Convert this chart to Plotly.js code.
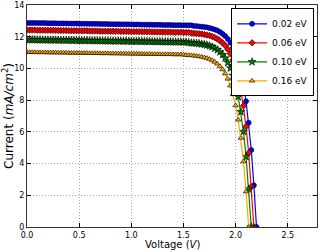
<!DOCTYPE html>
<html><head><meta charset="utf-8">
<script src="https://cdn.plot.ly/plotly-3.0.1.min.js"></script>
<style>html,body{margin:0;padding:0;background:#fff}#chart{width:320px;height:252px}</style>
</head><body><div id="chart"></div>
<script>
const voltage = [0,0.025,0.05,0.075,0.1,0.125,0.15,0.175,0.2,0.225,0.25,0.275,0.3,0.325,0.35,0.375,0.4,0.425,0.45,0.475,0.5,0.525,0.55,0.575,0.6,0.625,0.65,0.675,0.7,0.725,0.75,0.775,0.8,0.825,0.85,0.875,0.9,0.925,0.95,0.975,1.0,1.025,1.05,1.075,1.1,1.125,1.15,1.175,1.2,1.225,1.25,1.275,1.3,1.325,1.35,1.375,1.4,1.425,1.45,1.475,1.5,1.525,1.55,1.575,1.6,1.625,1.65,1.675,1.7,1.725,1.75,1.775,1.8,1.825,1.85,1.875,1.9,1.925,1.95,1.975,2.0,2.025,2.05,2.075,2.1,2.125,2.15,2.175,2.2];
const current002 = [12.87,12.87,12.87,12.87,12.86,12.86,12.86,12.86,12.85,12.85,12.85,12.85,12.84,12.84,12.84,12.84,12.83,12.83,12.83,12.83,12.82,12.82,12.82,12.82,12.81,12.81,12.81,12.81,12.80,12.80,12.80,12.80,12.79,12.79,12.79,12.79,12.78,12.78,12.78,12.78,12.77,12.77,12.77,12.77,12.76,12.76,12.76,12.76,12.75,12.75,12.75,12.75,12.74,12.74,12.74,12.74,12.73,12.73,12.73,12.73,12.72,12.72,12.72,12.72,12.68,12.67,12.65,12.63,12.61,12.59,12.55,12.51,12.45,12.39,12.30,12.18,12.04,11.86,11.62,11.32,10.93,10.43,9.79,8.98,7.93,6.58,4.85,2.63,0];
const current006 = [12.42,12.42,12.42,12.42,12.41,12.41,12.41,12.41,12.40,12.40,12.40,12.40,12.39,12.39,12.39,12.39,12.38,12.38,12.38,12.38,12.37,12.37,12.37,12.37,12.36,12.36,12.36,12.36,12.35,12.35,12.35,12.35,12.34,12.34,12.34,12.34,12.33,12.33,12.33,12.33,12.32,12.32,12.32,12.32,12.31,12.31,12.31,12.31,12.30,12.30,12.30,12.30,12.29,12.29,12.29,12.29,12.28,12.28,12.28,12.28,12.27,12.27,12.27,12.23,12.22,12.21,12.19,12.17,12.14,12.11,12.07,12.02,11.95,11.86,11.75,11.61,11.44,11.21,10.92,10.54,10.06,9.45,8.66,7.64,6.34,4.67,2.53,0];
const current010 = [11.81,11.81,11.81,11.81,11.80,11.80,11.80,11.80,11.79,11.79,11.79,11.79,11.78,11.78,11.78,11.78,11.77,11.77,11.77,11.77,11.76,11.76,11.76,11.76,11.75,11.75,11.75,11.75,11.74,11.74,11.74,11.74,11.73,11.73,11.73,11.73,11.72,11.72,11.72,11.72,11.71,11.71,11.71,11.71,11.70,11.70,11.70,11.70,11.69,11.69,11.69,11.69,11.68,11.68,11.68,11.68,11.67,11.67,11.67,11.67,11.66,11.66,11.63,11.61,11.60,11.59,11.57,11.54,11.51,11.47,11.42,11.36,11.27,11.17,11.04,10.87,10.65,10.37,10.02,9.56,8.98,8.22,7.26,6.02,4.44,2.40,0];
const current016 = [11.02,11.02,11.02,11.02,11.01,11.01,11.01,11.01,11.00,11.00,11.00,11.00,10.99,10.99,10.99,10.99,10.98,10.98,10.98,10.98,10.97,10.97,10.97,10.97,10.96,10.96,10.96,10.96,10.95,10.95,10.95,10.95,10.94,10.94,10.94,10.94,10.93,10.93,10.93,10.93,10.92,10.92,10.92,10.92,10.91,10.91,10.91,10.91,10.90,10.90,10.90,10.90,10.89,10.89,10.89,10.89,10.88,10.88,10.88,10.88,10.87,10.84,10.83,10.82,10.80,10.78,10.76,10.73,10.69,10.65,10.59,10.51,10.41,10.29,10.13,9.93,9.67,9.34,8.91,8.36,7.66,6.76,5.61,4.13,2.23,0];
const seriesNames = ['0.02 eV','0.06 eV','0.10 eV','0.16 eV'];
const xTickVals = [0,0.5,1.0,1.5,2.0,2.5];
const xTickText = ['0.0','0.5','1.0','1.5','2.0','2.5'];
const yTickVals = [0,2,4,6,8,10,12,14];

const series = [current002,current006,current010,current016];
const colors = ['#0000ff','#ff0000','#008000','#ffa500'];
const symbols = ['circle','diamond','star','triangle-up'];
const sizes = [5,5,6,5];
const traces = series.map((y,i)=>({
  x: voltage.slice(0,y.length), y: y, name: seriesNames[i], type:'scatter', mode:'lines+markers',
  line:{color:colors[i], width:1.2},
  marker:{symbol:symbols[i], size:sizes[i], color:colors[i], line:{color:'#000', width:0.6}}
}));
const gridStyle = {showgrid:true, gridcolor:'#a8a8a8', griddash:'1px,2px', gridwidth:1};
const layout = {
  width:320, height:252, margin:{l:27,r:3,t:5,b:25},
  paper_bgcolor:'#fff', plot_bgcolor:'#fff',
  font:{family:'DejaVu Sans', size:8, color:'#000'},
  showlegend:true,
  legend:{x:0.99, y:0.985, xanchor:'right', yanchor:'top', bgcolor:'#fff', bordercolor:'#000', borderwidth:1, font:{size:9}, tracegroupgap:0, itemwidth:30},
  xaxis:Object.assign({range:[0,2.78], tickvals:xTickVals, ticktext:xTickText, ticks:'inside', ticklen:4, tickcolor:'#000', showline:true, linecolor:'#333', linewidth:1, mirror:'allticks', zeroline:false}, gridStyle),
  yaxis:Object.assign({range:[0,14], tickvals:yTickVals, ticks:'inside', ticklen:4, tickcolor:'#000', showline:true, linecolor:'#333', linewidth:1, mirror:'allticks', zeroline:false,
    title:{text:'Current (<i>mA/cm</i><sup>2</sup>)', font:{size:12}, standoff:2}}, gridStyle),
  annotations:[{text:'Voltage (<i>V</i>)', xref:'paper', yref:'paper', x:0.5, y:-0.108, xanchor:'center', yanchor:'bottom', showarrow:false, font:{size:10}, borderpad:0}]
};
Plotly.newPlot('chart', traces, layout, {displayModeBar:false, staticPlot:true});
</script></body></html>
